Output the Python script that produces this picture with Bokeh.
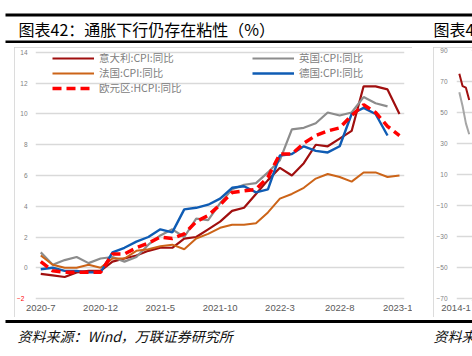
from bokeh.plotting import figure
from bokeh.models import (Range1d, FixedTicker, Legend, LegendItem, Label, BoxAnnotation,
                          Spacer, LinearAxis)
from bokeh.layouts import row, column
from bokeh.embed import file_html
from bokeh.resources import INLINE

# ---------------- data ----------------
months = ["2020-7", "2020-8", "2020-9", "2020-10", "2020-11", "2020-12",
          "2021-1", "2021-2", "2021-3", "2021-4", "2021-5", "2021-6",
          "2021-7", "2021-8", "2021-9", "2021-10", "2021-11", "2021-12",
          "2022-1", "2022-2", "2022-3", "2022-4", "2022-5", "2022-6",
          "2022-7", "2022-8", "2022-9", "2022-10", "2022-11", "2022-12",
          "2023-1"]
italy = [-0.4, -0.5, -0.6, -0.3, -0.2, -0.2, 0.4, 0.6, 0.8, 1.1, 1.3, 1.3,
         1.9, 2.0, 2.5, 3.0, 3.7, 3.9, 4.8, 5.7, 6.5, 6.0, 6.8, 8.0,
         7.9, 8.4, 8.9, 11.8, 11.8, 11.6, 10.0]
uk = [1.0, 0.2, 0.5, 0.7, 0.3, 0.6, 0.7, 0.4, 0.7, 1.5, 2.1, 2.5,
      2.0, 3.2, 3.1, 4.2, 5.1, 5.4, 5.5, 6.2, 7.0, 9.0, 9.1, 9.4,
      10.1, 9.9, 10.1, 11.1, 10.7, 10.5]
france = [0.8, 0.2, 0.0, 0.0, 0.2, 0.0, 0.6, 0.6, 1.1, 1.2, 1.4, 1.5,
          1.2, 1.9, 2.2, 2.6, 2.8, 2.8, 2.9, 3.6, 4.5, 4.8, 5.2, 5.8,
          6.1, 5.9, 5.6, 6.2, 6.2, 5.9, 6.0]
germany = [-0.1, 0.0, -0.2, -0.2, -0.3, -0.3, 1.0, 1.3, 1.7, 2.0, 2.5, 2.3,
           3.8, 3.9, 4.1, 4.5, 5.2, 5.3, 4.9, 5.1, 7.3, 7.4, 7.9, 7.6,
           7.5, 7.9, 10.0, 10.4, 10.0, 8.6]
euro = [0.4, -0.2, -0.3, -0.3, -0.3, -0.3, 0.9, 0.9, 1.3, 1.6, 2.0, 1.9,
        2.2, 3.0, 3.4, 4.1, 4.9, 5.0, 5.1, 5.9, 7.4, 7.4, 8.1, 8.6,
        8.9, 9.1, 9.9, 10.6, 10.1, 9.2, 8.6]
y_ticks_pos = [0, 2, 4, 6, 8, 10, 12, 14]
y_ticks_neg = [-2]
x_tick_idx = [0, 5, 10, 15, 20, 25, 30]

# neighbouring (cut-off) chart on the right
side_months = ["2014-1"]
side_red = [75, 67, 66, 58]
side_gray = [63, 54, 43, 36]
side_ticks = [90, 70, 50, 30, 10, -10, -30, -50, -70]

TITLE = "图表42：通胀下行仍存在粘性（%）"
SOURCE = "资料来源：Wind，万联证券研究所"
SIDE_TITLE = "图表43："
SIDE_SOURCE = "资料来源："
CJK = "Noto Sans CJK SC"
GRID = "#d9d9d9"
BOX = "#d0d0d0"


def strip(h, y0):
    f = figure(width=472, height=h, output_backend="svg", toolbar_location=None,
               x_range=Range1d(0, 472), y_range=Range1d(y0 + h, y0),
               x_axis_type=None, y_axis_type=None, min_border=0)
    f.outline_line_color = None
    f.border_fill_color = "white"
    f.background_fill_color = "white"
    return f


def rule(fig, l, r, t, b):
    fig.add_layout(BoxAnnotation(left=l, right=r, top=t, bottom=b,
                                 fill_color="black", fill_alpha=1, line_color=None))


def bare(ax):
    ax.axis_line_color = None
    ax.major_tick_line_color = None
    ax.minor_tick_line_color = None
    ax.major_tick_out = 0
    ax.major_tick_in = 0
    ax.minor_tick_out = 0
    ax.minor_tick_in = 0


def style_axes(fig, xfont, yfont, ystand):
    fig.yaxis.major_label_text_font_size = yfont
    fig.yaxis.major_label_text_color = "#7f7f7f"
    fig.yaxis.major_label_standoff = ystand
    fig.xaxis.major_label_text_font_size = xfont
    fig.xaxis.major_label_text_color = "#595959"
    fig.xaxis.major_label_text_font = "Liberation Sans"
    fig.xaxis.major_label_standoff = 4
    for ax in (fig.xaxis[0], fig.yaxis[0]):
        bare(ax)


# ---------------- top strip: rules + titles ----------------
top = strip(47, 0)
rule(top, 5, 472, 13, 16)
rule(top, 5, 472, 40, 42.5)
top.add_layout(Label(x=18, y=28.5, text=TITLE, text_font=CJK, text_font_size="16px",
                     text_color="black", text_baseline="middle"))
top.add_layout(Label(x=433, y=28.5, text=SIDE_TITLE, text_font=CJK, text_font_size="16px",
                     text_color="black", text_baseline="middle"))

# ---------------- main chart ----------------
p = figure(width=398, height=270, output_backend="svg", toolbar_location=None,
           x_range=Range1d(-0.44, 30.42), y_range=Range1d(-2.13, 14.13),
           min_border_left=19, min_border_right=8, min_border_top=3,
           min_border_bottom=17)
p.styles = {"outline": "1.5px solid " + BOX, "outline-offset": "-1.5px"}
p.outline_line_color = None
p.background_fill_color = "white"
p.border_fill_color = "white"
p.xgrid.grid_line_color = None
p.ygrid.ticker = FixedTicker(ticks=y_ticks_neg + y_ticks_pos)
p.ygrid.grid_line_color = GRID
p.ygrid.grid_line_width = 1.5
p.yaxis.ticker = FixedTicker(ticks=y_ticks_pos)
p.xaxis.ticker = FixedTicker(ticks=x_tick_idx)
p.xaxis.major_label_overrides = {i: months[i] for i in x_tick_idx}
style_axes(p, "9.5px", "6.5px", 8)

# negative tick label shown in red (Excel style), aligned with the others
neg_axis = LinearAxis(ticker=FixedTicker(ticks=y_ticks_neg), major_label_standoff=-7,
                      major_label_text_font_size="6.5px", major_label_text_color="#ff0000")
bare(neg_axis)
p.add_layout(neg_axis, "left")

r_it = p.line(list(range(len(italy))), italy, line_color="#A00F0F", line_width=2.2)
r_uk = p.line(list(range(len(uk))), uk, line_color="#8C8C8C", line_width=2.2)
r_fr = p.line(list(range(len(france))), france, line_color="#CC6418", line_width=2)
r_de = p.line(list(range(len(germany))), germany, line_color="#0F5CB4", line_width=2.4)
r_eu = p.line(list(range(len(euro))), euro, line_color="#FF0000", line_width=3.5,
              line_dash="9 5")


def mk_legend(items, loc):
    return Legend(items=items, location=loc, glyph_width=42, glyph_height=14,
                  label_height=14, label_standoff=5, spacing=0, padding=0, margin=0,
                  border_line_color=None, background_fill_alpha=0,
                  label_text_font_size="10.5px", label_text_color="#808080",
                  label_text_font=CJK)


p.add_layout(mk_legend([LegendItem(label="意大利:CPI:同比", renderers=[r_it]),
                        LegendItem(label="法国:CPI:同比", renderers=[r_fr]),
                        LegendItem(label="欧元区:HCPI:同比", renderers=[r_eu])], (17, 205)))
p.add_layout(mk_legend([LegendItem(label="英国:CPI:同比", renderers=[r_uk]),
                        LegendItem(label="德国:CPI:同比", renderers=[r_de])], (217, 220)))

# ---------------- right neighbour (cut off) ----------------
q = figure(width=39, height=270, output_backend="svg", toolbar_location=None,
           x_range=Range1d(-0.857, 4.0), y_range=Range1d(-71.3, 90),
           min_border_left=22, min_border_right=0, min_border_top=3,
           min_border_bottom=17)
q.styles = {"outline": "1.5px solid " + BOX, "outline-offset": "-1.5px"}
q.outline_line_color = None
q.border_fill_color = "white"
q.xgrid.grid_line_color = None
q.ygrid.grid_line_color = GRID
q.ygrid.grid_line_width = 1.5
q.yaxis.ticker = FixedTicker(ticks=side_ticks)
q.xaxis.ticker = FixedTicker(ticks=[0])
q.xaxis.major_label_overrides = {0: side_months[0]}
style_axes(q, "9.5px", "6.5px", 9)
q.line(list(range(len(side_gray))), side_gray, line_color="#a6a6a6", line_width=2)
q.line(list(range(len(side_red))), side_red, line_color="#A00F0F", line_width=2)

# ---------------- bottom strip: rule + source ----------------
bot = strip(39, 317)
rule(bot, 5, 472, 319.5, 322.5)
bot.add_layout(Label(x=17, y=335.5, text=SOURCE, text_font=CJK, text_font_size="14px",
                     text_font_style="italic", text_color="#111111",
                     text_baseline="middle"))
bot.add_layout(Label(x=433, y=335.5, text=SIDE_SOURCE, text_font=CJK, text_font_size="14px",
                     text_font_style="italic", text_color="#111111",
                     text_baseline="middle"))

middle = row(Spacer(width=14, height=270), p, Spacer(width=21, height=270), q, spacing=0)
layout = column(top, middle, bot, spacing=0)
open("out.html", "w").write(file_html(layout, INLINE))
